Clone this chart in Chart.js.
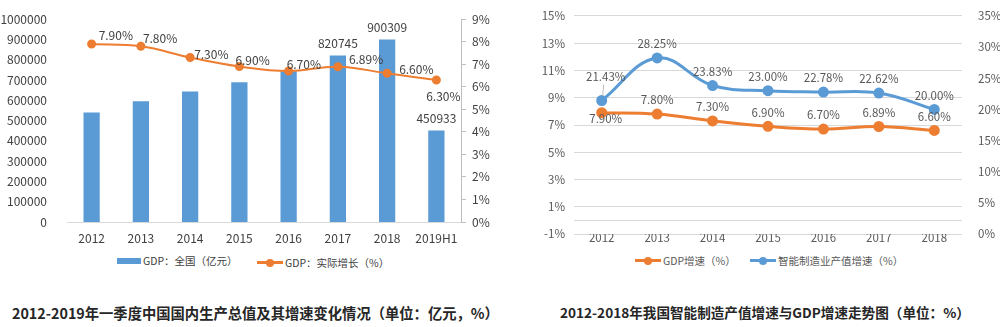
<!DOCTYPE html>
<html>
<head>
    <meta charset="utf-8">
    <script src="https://cdn.jsdelivr.net/npm/chart.js@4/dist/chart.umd.min.js"></script>
    <style>
        body {
            margin: 0;
            background-color: #ffffff;
            font-family: "Noto Sans CJK SC", "Microsoft YaHei", sans-serif;
        }
        .page {
            position: relative;
            width: 1000px;
            height: 327px;
            overflow: hidden;
        }
        canvas {
            position: absolute;
            top: 0;
        }
        #gdpChart { left: 0; }
        #smartChart { left: 500px; }
        .legend {
            position: absolute;
            font-size: 10.5px;
            color: #404040;
            white-space: nowrap;
            line-height: 14px;
        }
        .legend .item {
            display: inline-flex;
            align-items: center;
        }
        .sw-bar {
            display: inline-block;
            width: 24px;
            height: 6px;
            background: #5B9BD5;
            margin-right: 2px;
        }
        .sw-line {
            position: relative;
            display: inline-block;
            width: 26px;
            height: 3px;
            background: var(--c);
            margin-right: 2px;
        }
        .sw-line::after {
            content: '';
            position: absolute;
            left: 9px;
            top: -2.5px;
            width: 8px;
            height: 8px;
            border-radius: 50%;
            background: var(--c);
        }
        .title {
            position: absolute;
            top: 302px;
            font-weight: bold;
            color: #262626;
            white-space: nowrap;
        }
    </style>
</head>
<body>
<div class="page">
    <canvas id="gdpChart" width="500" height="250"></canvas>
    <canvas id="smartChart" width="500" height="250"></canvas>

    <div class="legend" style="left:117px; top:253px;">
        <span class="item"><span class="sw-bar"></span>GDP：全国（亿元）</span>
    </div>
    <div class="legend" style="left:257px; top:253px;">
        <span class="item"><span class="sw-line" style="--c:#ED7D31"></span>GDP：实际增长（%）</span>
    </div>
    <div class="legend" style="left:635px; top:251px; color:#595959;">
        <span class="item"><span class="sw-line" style="--c:#ED7D31"></span>GDP增速（%）</span>
    </div>
    <div class="legend" style="left:750px; top:251px; color:#595959;">
        <span class="item"><span class="sw-line" style="--c:#5B9BD5"></span>智能制造业产值增速（%）</span>
    </div>

    <div class="title" style="left:12px; font-size:14.3px;">2012-2019年一季度中国国内生产总值及其增速变化情况（单位：亿元，%）</div>
    <div class="title" style="left:560px; font-size:13.6px;">2012-2018年我国智能制造产值增速与GDP增速走势图（单位：%）</div>
</div>
<script>
    // ---- data: left chart ----
    var years1 = ['2012', '2013', '2014', '2015', '2016', '2017', '2018', '2019H1'];
    var gdpTotal = [540367, 595244, 643974, 689052, 743585, 820745, 900309, 450933];
    var gdpGrowth1 = [7.90, 7.80, 7.30, 6.90, 6.70, 6.89, 6.60, 6.30];

    // ---- data: right chart ----
    var years2 = ['2012', '2013', '2014', '2015', '2016', '2017', '2018'];
    var gdpGrowth2 = [7.90, 7.80, 7.30, 6.90, 6.70, 6.89, 6.60];
    var smartGrowth = [21.43, 28.25, 23.83, 23.00, 22.78, 22.62, 20.00];

    var FONT = '"Noto Sans CJK SC", "Microsoft YaHei", sans-serif';
    Chart.defaults.font.family = FONT;
    var BLUE = '#5B9BD5';
    var ORANGE = '#ED7D31';

    // draws the value text next to each point / bar
    var valueLabels = {
        id: 'valueLabels',
        afterDatasetsDraw: function (chart) {
            var ctx = chart.ctx;
            chart.data.datasets.forEach(function (ds, di) {
                var cfg = ds.lbl;
                if (!cfg) return;
                var meta = chart.getDatasetMeta(di);
                meta.data.forEach(function (el, i) {
                    if (cfg.skip && cfg.skip(i)) return;
                    var off = (cfg.offsets && cfg.offsets[i]) || cfg.def;
                    ctx.save();
                    if (cfg.leader && cfg.leader.indexOf(i) >= 0) {
                        ctx.strokeStyle = '#bfbfbf';
                        ctx.lineWidth = 1;
                        ctx.beginPath();
                        ctx.moveTo(el.x + 1, el.y - 5);
                        ctx.lineTo(el.x + off[0] - 2, el.y + off[1] + 8);
                        ctx.stroke();
                    }
                    ctx.font = cfg.font;
                    ctx.fillStyle = cfg.color;
                    ctx.textAlign = off[2] || 'center';
                    ctx.textBaseline = 'middle';
                    ctx.fillText(cfg.fmt(ds.data[i]), el.x + off[0], el.y + off[1]);
                    ctx.restore();
                });
            });
        }
    };

    // horizontal axis line at value 0 (right chart)
    var zeroLine = {
        id: 'zeroLine',
        beforeDatasetsDraw: function (chart) {
            var s = chart.scales.y;
            var y = Math.round(s.getPixelForValue(0)) + 0.5;
            var ctx = chart.ctx;
            ctx.save();
            ctx.strokeStyle = '#d9d9d9';
            ctx.lineWidth = 1;
            ctx.beginPath();
            ctx.moveTo(chart.chartArea.left, y);
            ctx.lineTo(chart.chartArea.right, y);
            ctx.stroke();
            ctx.restore();
        }
    };

    function pct(v) { return v.toFixed(2) + '%'; }

    // ---------------- left chart ----------------
    new Chart(document.getElementById('gdpChart').getContext('2d'), {
        data: {
            labels: years1,
            datasets: [{
                type: 'line',
                label: 'GDP：实际增长（%）',
                data: gdpGrowth1,
                yAxisID: 'y1',
                borderColor: ORANGE,
                backgroundColor: ORANGE,
                borderWidth: 2,
                pointRadius: 3.5,
                pointBackgroundColor: ORANGE,
                tension: 0.4,
                order: 0,
                lbl: {
                    font: '12px ' + FONT, color: '#404040', fmt: pct, def: [0, -12],
                    offsets: [[7, -9, 'left'], [2, -8, 'left'], [4, -3, 'left'], [-4, -6, 'left'],
                              [-2, -7, 'left'], [11, -7, 'left'], [12, -4, 'left'], [7, 16, 'center']]
                }
            }, {
                type: 'bar',
                label: 'GDP：全国（亿元）',
                data: gdpTotal,
                yAxisID: 'y',
                backgroundColor: BLUE,
                categoryPercentage: 1,
                barPercentage: 0.33,
                order: 1,
                lbl: {
                    font: '12px ' + FONT, color: '#404040', def: [0, -12],
                    fmt: function (v) { return String(v); },
                    skip: function (i) { return i < 5; }
                }
            }]
        },
        options: {
            responsive: false,
            devicePixelRatio: 1,
            animation: false,
            layout: { padding: { top: 16, left: 0, right: 0, bottom: 0 } },
            plugins: { legend: { display: false }, tooltip: { enabled: false } },
            scales: {
                x: {
                    grid: { display: false },
                    border: { display: true, color: '#d9d9d9' },
                    ticks: { color: '#404040', font: { size: 12 }, padding: 1 },
                    afterFit: function (s) { s.height = 28; }
                },
                y: {
                    position: 'left',
                    min: 0, max: 1000000,
                    ticks: { stepSize: 100000, color: '#404040', font: { size: 12 }, padding: 12,
                             callback: function (v) { return String(v); } },
                    grid: { display: false },
                    border: { display: false },
                    afterFit: function (s) { s.width = 67; }
                },
                y1: {
                    position: 'right',
                    min: 0, max: 9,
                    ticks: { stepSize: 1, color: '#404040', font: { size: 12 }, padding: 6,
                             callback: function (v) { return v + '%'; } },
                    grid: { drawOnChartArea: false, drawTicks: true, tickLength: 5, color: '#bfbfbf' },
                    border: { display: true, color: '#bfbfbf' },
                    afterFit: function (s) { s.width = 39; }
                }
            }
        },
        plugins: [valueLabels]
    });

    // ---------------- right chart ----------------
    new Chart(document.getElementById('smartChart').getContext('2d'), {
        type: 'line',
        data: {
            labels: years2,
            datasets: [{
                label: 'GDP增速（%）',
                data: gdpGrowth2,
                yAxisID: 'y',
                borderColor: ORANGE,
                backgroundColor: ORANGE,
                borderWidth: 3,
                pointRadius: 4,
                tension: 0.4,
                lbl: {
                    font: '11.5px ' + FONT, color: '#595959', fmt: pct, def: [0, -14],
                    offsets: [[4, 6]]
                }
            }, {
                label: '智能制造业产值增速（%）',
                data: smartGrowth,
                yAxisID: 'y1',
                borderColor: BLUE,
                backgroundColor: BLUE,
                borderWidth: 3,
                pointRadius: 4,
                tension: 0.4,
                lbl: {
                    font: '11.5px ' + FONT, color: '#595959', fmt: pct, def: [0, -14],
                    offsets: [[4, -24]], leader: [0]
                }
            }]
        },
        options: {
            responsive: false,
            devicePixelRatio: 1,
            animation: false,
            layout: { padding: { top: 13, left: 0, right: 0, bottom: 0 } },
            plugins: { legend: { display: false }, tooltip: { enabled: false } },
            scales: {
                x: {
                    offset: true,
                    grid: { display: false, offset: true },
                    border: { display: false },
                    ticks: { color: '#595959', font: { size: 11.5 }, padding: -11 },
                    afterFit: function (s) { s.height = 13; }
                },
                y: {
                    position: 'left',
                    min: -1, max: 15,
                    ticks: { stepSize: 2, color: '#595959', font: { size: 11.5 }, padding: 9,
                             callback: function (v) { return v + '%'; } },
                    grid: { color: '#d9d9d9', drawTicks: false },
                    border: { display: false },
                    afterFit: function (s) { s.width = 74; }
                },
                y1: {
                    position: 'right',
                    min: 0, max: 35,
                    ticks: { stepSize: 5, color: '#595959', font: { size: 11.5 }, padding: 8,
                             callback: function (v) { return v + '%'; } },
                    grid: { display: false },
                    border: { display: false },
                    afterFit: function (s) { s.width = 38; }
                }
            }
        },
        plugins: [zeroLine, valueLabels]
    });
</script>
</body>
</html>
